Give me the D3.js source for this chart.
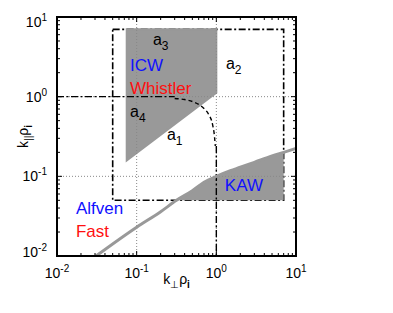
<!DOCTYPE html>
<head>
<meta charset="utf-8">
<style>
  body { margin: 0; background: white; }
  svg { background: white; font-family: 'Liberation Sans', Arial, Helvetica, sans-serif; }
  .tick-label { font-size: 14px; fill: #000; }
  .axis-label { font-size: 14px; fill: #000; }
  .region { font-size: 17px; }
  .alabel { font-size: 16px; fill: #000; }
</style>
</head>
<body>
<script src="https://d3js.org/d3.v7.min.js"></script>
<script>
// DATA
const decades = [0.01, 0.1, 1, 10];
const decadeExp = ["-2", "-1", "0", "1"];
const gridVals = [0.1, 1];

// dash-dot box
const boxPerp = [0.05, 7, 7, 0.05, 0.05];
const boxPar  = [7, 7, 0.05, 0.05, 7];

// k_par = 1 line, arc, k_perp = 1 line
const flatPerp = [0.01, 0.3];
const flatPar  = [1, 1];
const arcPerp = [0.3, 0.4, 0.5, 0.6, 0.7, 0.8, 0.9, 0.95, 0.97];
const arcPar  = [0.95, 0.92, 0.87, 0.8, 0.71, 0.6, 0.44, 0.31, 0.24];
const vertPerp = [1, 1];
const vertPar  = [0.24, 0.01];

// ICW / Whistler shaded region
const icwPerp = [0.075, 1, 1, 0.075];
const icwPar  = [7, 7, 1.12, 0.158];

// Alfven / Fast boundary curve
const curvePerp = [0.03, 0.1, 0.2, 0.316, 0.5, 0.7, 1, 1.5, 2, 3, 5, 7, 10];
const curvePar  = [0.0098, 0.023, 0.036, 0.05, 0.066, 0.084, 0.1, 0.118, 0.13, 0.15, 0.18, 0.2, 0.224];
const kawFloor = 0.05, kawRight = 7;

// DIMENSIONS
const width = 393, height = 313;
const margin = {top: 17, right: 97, bottom: 57, left: 57};

const svg = d3.select('body').append('svg')
  .attr('width', width).attr('height', height);

const x = d3.scaleLog([0.01, 10], [margin.left, width - margin.right]);
const y = d3.scaleLog([0.01, 10], [height - margin.bottom, margin.top]);

const pts = (xs, ys) => xs.map((v, i) => [x(v), y(ys[i])]);
const line = d3.line();

// dash-dot box
svg.append('path')
  .attr('d', line(pts(boxPerp, boxPar)))
  .attr('fill', 'none').attr('stroke', '#000').attr('stroke-width', 1.6)
  .attr('stroke-dasharray', '7,2.5,2,2.5');

// shaded ICW region
svg.append('path')
  .attr('d', line(pts(icwPerp, icwPar)) + 'Z')
  .attr('fill', '#999').attr('stroke', '#999').attr('stroke-width', 2);

// KAW region under curve
const kawIdx = curvePerp.map((v, i) => i).filter(i => curvePerp[i] >= 0.316 && curvePerp[i] <= kawRight);
const kawPts = kawIdx.map(i => [x(curvePerp[i]), y(curvePar[i])]);
kawPts.push([x(kawRight), y(kawFloor)], [x(0.316), y(kawFloor)]);
svg.append('path')
  .attr('d', line(kawPts) + 'Z')
  .attr('fill', '#999');

// dotted grid
const grid = svg.append('g').attr('stroke', '#888').attr('stroke-width', 1)
  .attr('stroke-dasharray', '1,2');
gridVals.forEach(v => {
  grid.append('line').attr('x1', x(v)).attr('x2', x(v))
    .attr('y1', y(0.01)).attr('y2', y(10));
  grid.append('line').attr('y1', y(v)).attr('y2', y(v))
    .attr('x1', x(0.01)).attr('x2', x(10));
});

// k_par = 1 dash-dot, arc dashed, k_perp = 1 dash-dot
svg.append('path').attr('d', line(pts(flatPerp, flatPar)))
  .attr('fill', 'none').attr('stroke', '#000').attr('stroke-width', 1.4)
  .attr('stroke-dasharray', '7,2.5,2,2.5');
svg.append('path').attr('d', d3.line().curve(d3.curveMonotoneX)(pts(arcPerp, arcPar)))
  .attr('fill', 'none').attr('stroke', '#000').attr('stroke-width', 1.4)
  .attr('stroke-dasharray', '4,3');
svg.append('path').attr('d', line(pts(vertPerp, vertPar)))
  .attr('fill', 'none').attr('stroke', '#000').attr('stroke-width', 1.4)
  .attr('stroke-dasharray', '7,2.5,2,2.5');

// thick gray boundary
svg.append('path')
  .attr('d', d3.line().curve(d3.curveMonotoneX)(pts(curvePerp, curvePar)))
  .attr('fill', 'none').attr('stroke', '#999').attr('stroke-width', 3);

// clip line ends to plot
svg.append('rect').attr('x', 0).attr('y', y(0.01) + 1).attr('width', width).attr('height', height)
  .attr('fill', 'white');
svg.append('rect').attr('x', x(10) + 1).attr('y', 0).attr('width', width).attr('height', height)
  .attr('fill', 'white');

// AXES (ticks inward on all four sides)
const minor = [];
decades.slice(0, 3).forEach(d => { for (let k = 2; k <= 9; k++) minor.push(d * k); });
const ticks = svg.append('g').attr('stroke', '#000').attr('stroke-width', 1);
const tickSet = decades.map(v => [v, 5]).concat(minor.map(v => [v, 3]));
tickSet.forEach(([v, len]) => {
  ticks.append('line').attr('x1', x(v)).attr('x2', x(v)).attr('y1', y(0.01)).attr('y2', y(0.01) - len);
  ticks.append('line').attr('x1', x(v)).attr('x2', x(v)).attr('y1', y(10)).attr('y2', y(10) + len);
  ticks.append('line').attr('y1', y(v)).attr('y2', y(v)).attr('x1', x(0.01)).attr('x2', x(0.01) + len);
  ticks.append('line').attr('y1', y(v)).attr('y2', y(v)).attr('x1', x(10)).attr('x2', x(10) - len);
});

svg.append('rect')
  .attr('x', x(0.01)).attr('y', y(10))
  .attr('width', x(10) - x(0.01)).attr('height', y(0.01) - y(10))
  .attr('fill', 'none').attr('stroke', '#000').attr('stroke-width', 2);

// tick labels
function power(sel, exp) {
  sel.append('tspan').text('10');
  sel.append('tspan').attr('dy', -6).attr('font-size', 10).text(exp);
}
decades.forEach((v, i) => {
  svg.append('text').attr('class', 'tick-label')
    .attr('x', x(v)).attr('y', y(0.01) + 22)
    .attr('text-anchor', 'middle')
    .call(power, decadeExp[i]);
  const by = Math.min(Math.max(y(v) + 5, y(10) + 10), y(0.01) + 1);
  svg.append('text').attr('class', 'tick-label')
    .attr('x', x(0.01) - 10).attr('y', by)
    .attr('text-anchor', 'end')
    .call(power, decadeExp[i]);
});

// axis labels
const xl = svg.append('text').attr('class', 'axis-label')
  .attr('x', (x(0.01) + x(10)) / 2).attr('y', y(0.01) + 28).attr('text-anchor', 'middle');
xl.append('tspan').text('k');
xl.append('tspan').attr('dy', 4).attr('font-size', 10).text('\u22A5');
xl.append('tspan').attr('dy', -4).text('\u03C1');
xl.append('tspan').attr('dy', 4).attr('font-size', 10).attr('font-weight', 'bold').text('i');

const yl = svg.append('text').attr('class', 'axis-label')
  .attr('transform', `translate(28,${(y(0.01) + y(10)) / 2}) rotate(-90)`)
  .attr('text-anchor', 'middle');
yl.append('tspan').text('k');
yl.append('tspan').attr('dy', 4).attr('font-size', 10).text('||');
yl.append('tspan').attr('dy', -4).text('\u03C1');
yl.append('tspan').attr('dy', 4).attr('font-size', 10).attr('font-weight', 'bold').text('i');

// region labels
const regionLabels = [
  {t: 'ICW', kx: 0.0824, ky: 2.1, c: '#1010ff'},
  {t: 'Whistler', kx: 0.0824, ky: 1.08, c: '#ff1010'},
  {t: 'KAW', kx: 1.28, ky: 0.0656, c: '#1010ff'},
  {t: 'Alfven', kx: 0.0173, ky: 0.0337, c: '#1010ff'},
  {t: 'Fast', kx: 0.0173, ky: 0.0174, c: '#ff1010'}
];
regionLabels.forEach(d => {
  svg.append('text').attr('class', 'region')
    .attr('x', x(d.kx)).attr('y', y(d.ky)).attr('fill', d.c).text(d.t);
});

const aLabels = [
  {n: '1', kx: 0.24, ky: 0.286},
  {n: '2', kx: 1.32, ky: 2.23},
  {n: '3', kx: 0.16, ky: 4.46},
  {n: '4', kx: 0.0824, ky: 0.556}
];
aLabels.forEach(d => {
  const t = svg.append('text').attr('class', 'alabel')
    .attr('x', x(d.kx)).attr('y', y(d.ky));
  t.append('tspan').text('a');
  t.append('tspan').attr('dy', 5).attr('font-size', 12).text(d.n);
});
</script>
</body>
